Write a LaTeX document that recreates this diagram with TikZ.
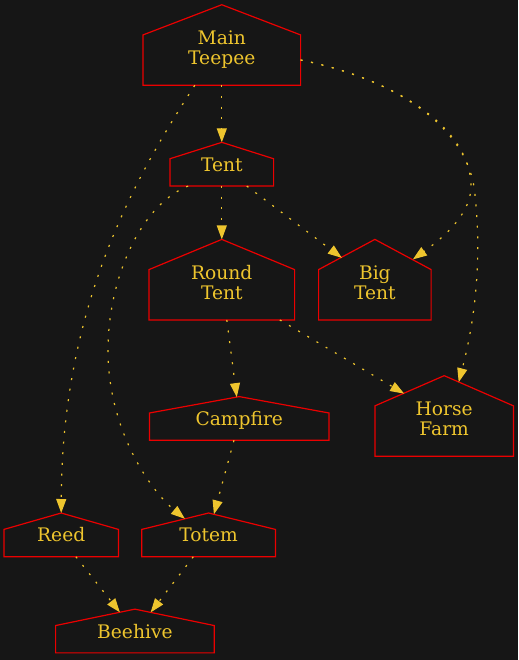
\documentclass[tikz,border=0pt]{standalone}
\usepackage{fontspec}
\setmainfont{DejaVu Serif}
\usetikzlibrary{arrows.meta, positioning, calc}
\definecolor{bgdark}{RGB}{22,22,22}
\definecolor{housered}{RGB}{235,0,0}
\definecolor{labelgold}{RGB}{238,197,46}

\begin{document}
\begin{tikzpicture}[
      x=0.75pt, y=-0.75pt,
      house/.style={
        rectangle, draw=none, inner sep=0pt, align=center,
        text=labelgold, font=\fontsize{14}{15}\selectfont
      },
      tall/.style={house, minimum height=60pt,
        execute at begin node={\rule{0pt}{33pt}},
        execute at end node={\rule[-4pt]{0pt}{4pt}}},
      flat/.style={house, minimum height=32.4pt, text depth=0pt},
      roof/.style={draw=housered, line width=0.9pt, line join=miter},
      link/.style={-{Triangle[length=10.5pt, width=7.5pt]}, color=labelgold,
        line width=0.9pt, dash pattern=on 1.5pt off 6.5pt}
    ]
      \fill[bgdark] (0,0) rectangle (518,660);
      % --- Middle column: teepee, tent, round tent ---
      \node[tall, minimum width=117.8pt] (main) at (221.8,45) {Main\\Teepee};
      \node[flat, minimum width=77.3pt, below=42.8pt of main] (tent) {Tent};
      \node[tall, minimum width=108.8pt, below=40pt of tent] (round) {Round\\Tent};
      % --- Right side: big tent and horse farm ---
      \node[tall, minimum width=84pt, right=18pt of round] (big) {Big\\Tent};
      \node[tall, minimum width=103.5pt, below=41.8pt of big, xshift=52pt] (horse) {Horse\\Farm};
      % --- Lower rows ---
      \node[flat, minimum width=134.3pt, below=57.5pt of round, xshift=13.1pt] (campfire) {Campfire};
      \node[flat, minimum width=99.8pt, below=54.5pt of campfire, xshift=-23pt] (totem) {Totem};
      \node[flat, minimum width=85.5pt, left=17.5pt of totem] (reed) {Reed};
      \node[flat, minimum width=118.5pt, below=39.3pt of $(reed.south)!0.5!(totem.south)$, anchor=north] (beehive) {Beehive};
      % --- House outlines round every label ---
      \foreach \n in {main,tent,round,big,horse,campfire,totem,reed,beehive}
        \draw[roof] (\n.south west) -- ($(\n.north west)!0.375!(\n.south west)$)
          -- (\n.north) -- ($(\n.north east)!0.375!(\n.south east)$)
          -- (\n.south east) -- cycle;
      % --- Dotted links ---
      \draw[link] (main.south) -- (tent.north);
      \draw[link] ([shift={(-27,0)}]main.south) .. controls (140,170) and (62,300) .. (reed.north);
      \draw[link] ([shift={(0,15)}]main.east) .. controls (400,80) and (470,130) .. (471,185)
        .. controls (472,215) and (440,240) .. ([shift={(38,20)}]big.north);
      \draw[link] ([shift={(0,15)}]main.east) .. controls (400,80) and (470,130) .. (475,195)
        .. controls (482,260) and (475,320) .. ([shift={(14.5,6.5)}]horse.north);
      \draw[link] (tent.south) -- (round.north);
      \draw[link] ([shift={(25,0)}]tent.south) -- ([shift={(-33,18.5)}]big.north);
      \draw[link] ([shift={(-33.7,0)}]tent.south) .. controls (140,205) and (108,280) .. (108,350)
        .. controls (108,430) and (150,490) .. ([shift={(-23.7,5.8)}]totem.north);
      \draw[link] ([shift={(5,0)}]round.south) -- ([shift={(-2.5,0.5)}]campfire.north);
      \draw[link] ([shift={(58,0)}]round.south) -- ([shift={(-40,18)}]horse.north);
      \draw[link] ([shift={(-5.3,0)}]campfire.south) -- ([shift={(5.3,1.3)}]totem.north);
      \draw[link] ([shift={(14.7,0)}]reed.south) -- ([shift={(-15,3.2)}]beehive.north);
      \draw[link] ([shift={(-15.3,0)}]totem.south) -- ([shift={(15.7,3.3)}]beehive.north);
\end{tikzpicture}
\end{document}
